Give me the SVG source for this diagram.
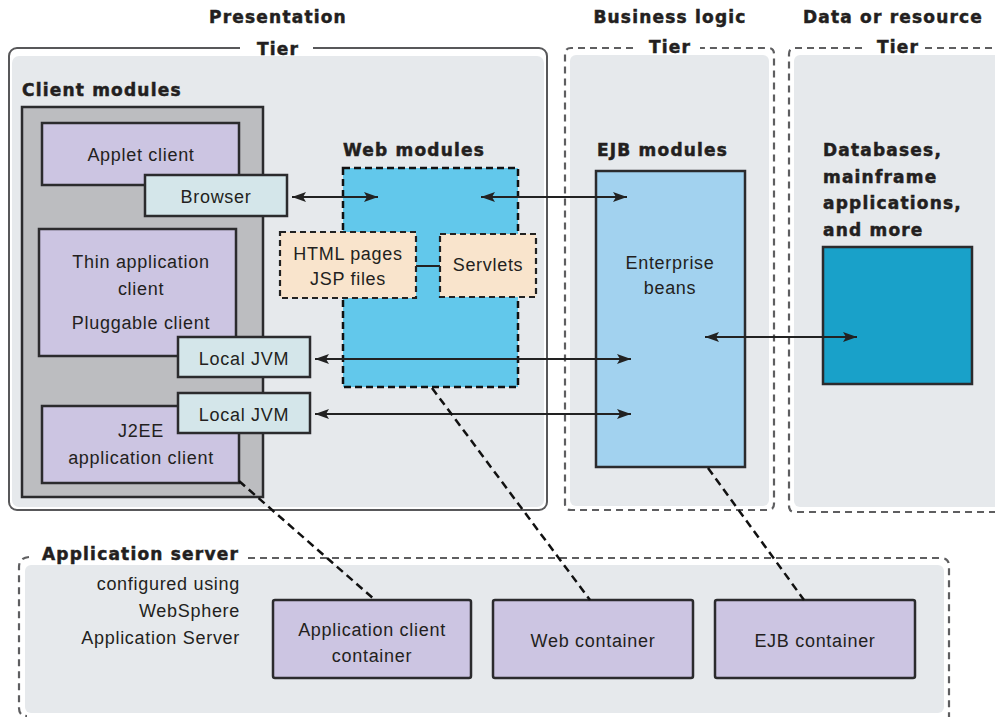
<svg xmlns="http://www.w3.org/2000/svg" width="995" height="717" viewBox="0 0 995 717">
<defs>
<style>
.title{font-family:"DejaVu Sans",sans-serif;font-weight:bold;font-size:17px;letter-spacing:1.2px;fill:#231f20;stroke:#231f20;stroke-width:0.5}
.t{font-family:"Liberation Sans",Arial,sans-serif;font-size:18px;letter-spacing:0.7px;fill:#231f20}
.c{text-anchor:middle}
.r{text-anchor:end}
.tierfill{fill:#e6e9ec}
.solidframe{fill:none;stroke:#58585a;stroke-width:2}
.dashframe{fill:none;stroke:#5e5e60;stroke-width:2.2;stroke-dasharray:7 5}
.box{stroke:#2b2b2d;stroke-width:2.5}
.lav{fill:#ccc5e2}
.pale{fill:#d4e6ea}
.conn{stroke:#222;stroke-width:2;fill:none}
.dconn{stroke:#111;stroke-width:2.5;stroke-dasharray:8 5;fill:none}
</style>
<marker id="ah" viewBox="0 0 14 10" refX="14" refY="5" markerWidth="14" markerHeight="10" markerUnits="userSpaceOnUse" orient="auto-start-reverse">
<path d="M0,0 L14,5 L0,10 L3,5 Z" fill="#222"/>
</marker>
</defs>
<rect width="995" height="717" fill="#fff"/>

<g id="presentation-tier">
<rect class="tierfill" x="12" y="56" width="532" height="451" rx="7"/>
<path class="solidframe" d="M240,48 H17 A8,8 0 0 0 9,56 V502 A8,8 0 0 0 17,510 H539 A8,8 0 0 0 547,502 V56 A8,8 0 0 0 539,48 H313"/>
<text class="title c" x="278" y="23">Presentation</text>
<text class="title c" x="278" y="55">Tier</text>
</g>

<g id="business-tier">
<rect class="tierfill" x="570" y="55" width="199" height="451" rx="6"/>
<path class="dashframe" d="M633,48 H571 Q565,48 565,54 V504 Q565,510 571,510 H768 Q774,510 774,504 V54 Q774,48 768,48 H700"/>
<text class="title c" x="670" y="23">Business logic</text>
<text class="title c" x="670" y="53">Tier</text>
</g>

<g id="data-tier">
<rect class="tierfill" x="794" y="55" width="210" height="452" rx="6"/>
<path class="dashframe" d="M862,48 H795 Q789,48 789,54 V506 Q789,512 795,512 H1000 M925,48 H1000"/>
<text class="title" x="803" y="23">Data or resource</text>
<text class="title c" x="898" y="53">Tier</text>
</g>

<g id="client-modules">
<rect class="box" x="22" y="107" width="241" height="390" fill="#bcbdc0"/>
<text class="title" x="22" y="96">Client modules</text>
</g>

<g id="applet-client">
<rect class="box lav" x="42" y="123" width="197" height="62"/>
<text class="t c" x="141" y="161">Applet client</text>
</g>

<g id="browser">
<rect class="box pale" x="145" y="175" width="142" height="41"/>
<text class="t c" x="216" y="203">Browser</text>
</g>

<g id="thin-client">
<rect class="box lav" x="39" y="229" width="197" height="127"/>
<text class="t c" x="141" y="268">Thin application</text>
<text class="t c" x="141" y="295">client</text>
<text class="t c" x="141" y="329">Pluggable client</text>
</g>

<g id="local-jvm-1">
<rect class="box pale" x="178" y="337" width="132" height="40"/>
<text class="t c" x="244" y="365">Local JVM</text>
</g>

<g id="j2ee-client">
<rect class="box lav" x="42" y="406" width="197" height="77"/>
<text class="t c" x="141" y="437">J2EE</text>
<text class="t c" x="141" y="464">application client</text>
</g>

<g id="local-jvm-2">
<rect class="box pale" x="178" y="393" width="132" height="40"/>
<text class="t c" x="244" y="421">Local JVM</text>
</g>

<g id="web-modules">
<rect x="343" y="168" width="175" height="219" fill="#62c8eb" stroke="#111" stroke-width="2.5" stroke-dasharray="7 4"/>
<text class="title" x="343" y="156">Web modules</text>
</g>

<g id="html-jsp">
<rect x="280" y="232" width="136" height="66" fill="#f9e4cc" stroke="#222" stroke-width="2.2" stroke-dasharray="6 4"/>
<text class="t c" x="348" y="260">HTML pages</text>
<text class="t c" x="348" y="285">JSP files</text>
</g>

<g id="servlets">
<rect x="440" y="234" width="96" height="63" fill="#f9e4cc" stroke="#222" stroke-width="2.2" stroke-dasharray="6 4"/>
<text class="t c" x="488" y="271">Servlets</text>
</g>

<g id="ejb-modules">
<rect class="box" x="596" y="171" width="149" height="296" fill="#a2d2ef"/>
<text class="title" x="597" y="156">EJB modules</text>
<text class="t c" x="670" y="269">Enterprise</text>
<text class="t c" x="670" y="294">beans</text>
</g>

<g id="databases">
<rect class="box" x="823" y="247" width="149" height="137" fill="#19a1c9"/>
<text class="title" x="823" y="156">Databases,</text>
<text class="title" x="823" y="183">mainframe</text>
<text class="title" x="823" y="209">applications,</text>
<text class="title" x="823" y="236">and more</text>
</g>

<g id="application-server">
<rect class="tierfill" x="25" y="565" width="919" height="148" rx="6"/>
<path class="dashframe" d="M29,557 Q19,558 19,567 V708 Q19,716 27,716 M248,558 H941 Q949,558 949,566 V717"/>
<text class="title" x="42" y="560">Application server</text>
<text class="t r" x="240" y="590">configured using</text>
<text class="t r" x="240" y="617">WebSphere</text>
<text class="t r" x="240" y="644">Application Server</text>
</g>

<g id="app-client-container">
<rect class="box lav" x="273" y="600" width="198" height="78" rx="2"/>
<text class="t c" x="372" y="636">Application client</text>
<text class="t c" x="372" y="662">container</text>
</g>

<g id="web-container">
<rect class="box lav" x="493" y="600" width="200" height="78" rx="2"/>
<text class="t c" x="593" y="647">Web container</text>
</g>

<g id="ejb-container">
<rect class="box lav" x="715" y="600" width="200" height="78" rx="2"/>
<text class="t c" x="815" y="647">EJB container</text>
</g>

<g id="connectors">
<line class="conn" x1="292" y1="197" x2="378" y2="197" marker-start="url(#ah)" marker-end="url(#ah)"/>
<line class="conn" x1="481" y1="197" x2="627" y2="197" marker-start="url(#ah)" marker-end="url(#ah)"/>
<line class="conn" x1="315" y1="359" x2="631" y2="359" marker-start="url(#ah)" marker-end="url(#ah)"/>
<line class="conn" x1="315" y1="414" x2="631" y2="414" marker-start="url(#ah)" marker-end="url(#ah)"/>
<line class="conn" x1="705" y1="337" x2="857" y2="337" marker-start="url(#ah)" marker-end="url(#ah)"/>
<line class="conn" x1="416" y1="266" x2="440" y2="266"/>
<line class="dconn" x1="239" y1="481" x2="375" y2="600"/>
<line class="dconn" x1="432" y1="388" x2="590" y2="600"/>
<line class="dconn" x1="708" y1="468" x2="804" y2="600"/>
</g>
</svg>
